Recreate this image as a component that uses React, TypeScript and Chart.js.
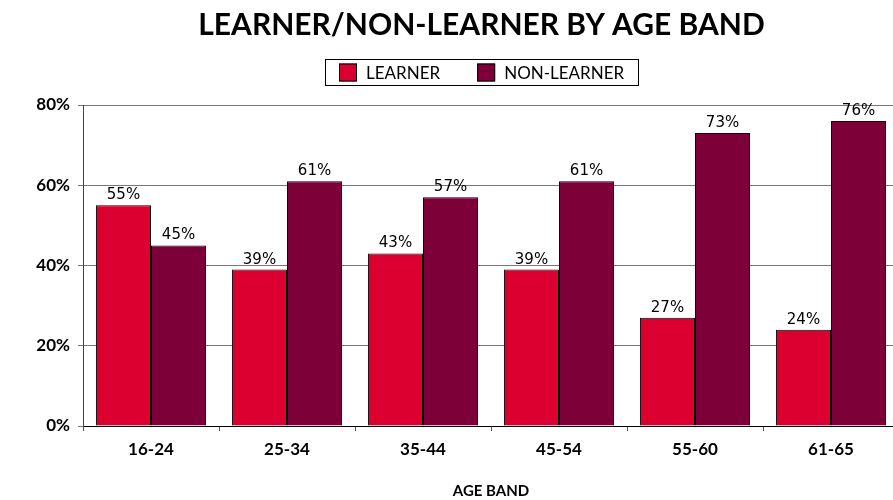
import React, { useEffect, useRef } from 'react';
import { Chart, registerables } from 'chart.js';

Chart.register(...registerables);

const categories = ['16-24', '25-34', '35-44', '45-54', '55-60', '61-65'];
const learnerValues = [55, 39, 43, 39, 27, 24];
const nonLearnerValues = [45, 61, 57, 61, 73, 76];
const seriesNames = ['LEARNER', 'NON-LEARNER'];
const yTickValues = [0, 20, 40, 60, 80];
const chartTitle = 'LEARNER/NON-LEARNER BY AGE BAND';
const xAxisTitle = 'AGE BAND';

const CANVAS_W = 963;
const CANVAS_H = 500;

const valueLabels = {
  id: 'valueLabels',
  afterDatasetsDraw(chart: any) {
    const ctx = chart.ctx;
    ctx.save();
    ctx.font = '15px "DejaVu Sans"';
    ctx.fillStyle = '#000';
    ctx.textAlign = 'center';
    ctx.textBaseline = 'alphabetic';
    chart.data.datasets.forEach((ds: any, i: number) => {
      const meta = chart.getDatasetMeta(i);
      meta.data.forEach((el: any, j: number) => {
        ctx.fillText(ds.data[j] + '%', el.x, el.y - 6);
      });
    });
    ctx.restore();
  },
};

const boxedLegend = {
  id: 'boxedLegend',
  afterDraw(chart: any) {
    const ctx = chart.ctx;
    ctx.save();
    ctx.font = '17px Lato';
    const items = chart.data.datasets.map((ds: any) => ({
      text: ds.label,
      color: ds.backgroundColor,
      w: ctx.measureText(ds.label).width,
    }));
    const box = 18;
    const gapText = 9;
    const gapItem = 37;
    const padX = 14;
    const total =
      padX * 2 +
      items.reduce((s: number, it: any) => s + box + gapText + it.w, 0) +
      gapItem * (items.length - 1);
    const left = Math.round(chart.width / 2 - total / 2);
    const top = 59;
    const height = 26;
    ctx.fillStyle = '#fff';
    ctx.fillRect(left, top, total, height);
    ctx.strokeStyle = '#000';
    ctx.lineWidth = 1;
    ctx.strokeRect(left + 0.5, top + 0.5, Math.round(total), height);
    let x = left + padX;
    const cy = top + height / 2 + 0.5;
    items.forEach((it: any) => {
      ctx.fillStyle = it.color;
      ctx.fillRect(x, cy - box / 2, box, box);
      ctx.strokeStyle = '#000';
      ctx.strokeRect(x + 0.5, cy - box / 2 + 0.5, box - 1, box - 1);
      x += box + gapText;
      ctx.fillStyle = '#000';
      ctx.textAlign = 'left';
      ctx.textBaseline = 'middle';
      ctx.fillText(it.text, x, cy + 1);
      x += it.w + gapItem;
    });
    ctx.restore();
  },
};

export default function App() {
  const canvasRef = useRef<HTMLCanvasElement | null>(null);

  useEffect(() => {
    const canvas = canvasRef.current;
    if (!canvas) return;
    const chart = new Chart(canvas, {
      type: 'bar',
      data: {
        labels: categories,
        datasets: [
          {
            label: seriesNames[0],
            data: learnerValues,
            backgroundColor: '#DC0030',
            borderColor: '#000',
            borderWidth: 1,
            barPercentage: 1,
            categoryPercentage: 0.81,
          },
          {
            label: seriesNames[1],
            data: nonLearnerValues,
            backgroundColor: '#7E0038',
            borderColor: '#000',
            borderWidth: 1,
            barPercentage: 1,
            categoryPercentage: 0.81,
          },
        ],
      },
      options: {
        responsive: false,
        animation: false,
        devicePixelRatio: 1,
        layout: { padding: 0 },
        plugins: {
          legend: { display: false },
          tooltip: { enabled: false },
          title: {
            display: true,
            text: chartTitle,
            color: '#000',
            font: { family: 'Lato', size: 30, weight: 'bold' },
            padding: { top: 7, bottom: 62 },
          },
        },
        scales: {
          x: {
            offset: true,
            grid: {
              offset: true,
              drawOnChartArea: false,
              drawTicks: true,
              tickLength: 5,
              color: '#555',
            },
            border: { display: true, color: '#000', width: 1 },
            ticks: {
              color: '#000',
              font: { family: 'Lato', size: 17, weight: 'bold' },
              padding: 8,
              maxRotation: 0,
            },
            title: {
              display: true,
              text: xAxisTitle,
              color: '#000',
              font: { family: 'Lato', size: 15, weight: 'bold' },
              padding: { top: 0, bottom: 0 },
            },
            afterFit(scale: any) {
              scale.height = 74;
            },
          },
          y: {
            min: 0,
            max: 80,
            grid: {
              color: '#777',
              tickLength: 5,
              drawTicks: true,
            },
            border: { display: true, color: '#444', width: 1 },
            ticks: {
              color: '#000',
              font: { family: 'Lato', size: 17, weight: 'bold' },
              padding: 8,
              callback: (v: any) => v + '%',
            },
            afterBuildTicks(axis: any) {
              axis.ticks = yTickValues.map((v) => ({ value: v }));
            },
            afterFit(scale: any) {
              scale.width = 83;
            },
          },
          yRight: {
            position: 'right',
            min: 0,
            max: 80,
            grid: { display: false, drawOnChartArea: false },
            border: { display: false },
            ticks: { display: false },
            afterFit(scale: any) {
              scale.width = 64;
            },
          },
        },
      },
      plugins: [valueLabels, boxedLegend],
    });
    return () => chart.destroy();
  }, []);

  return (
    <div
      style={{
        position: 'absolute',
        left: 0,
        top: 0,
        width: 893,
        height: 500,
        overflow: 'hidden',
        background: '#fff',
      }}
    >
      <canvas
        ref={canvasRef}
        width={CANVAS_W}
        height={CANVAS_H}
        style={{ width: CANVAS_W, height: CANVAS_H, display: 'block' }}
      />
    </div>
  );
}
